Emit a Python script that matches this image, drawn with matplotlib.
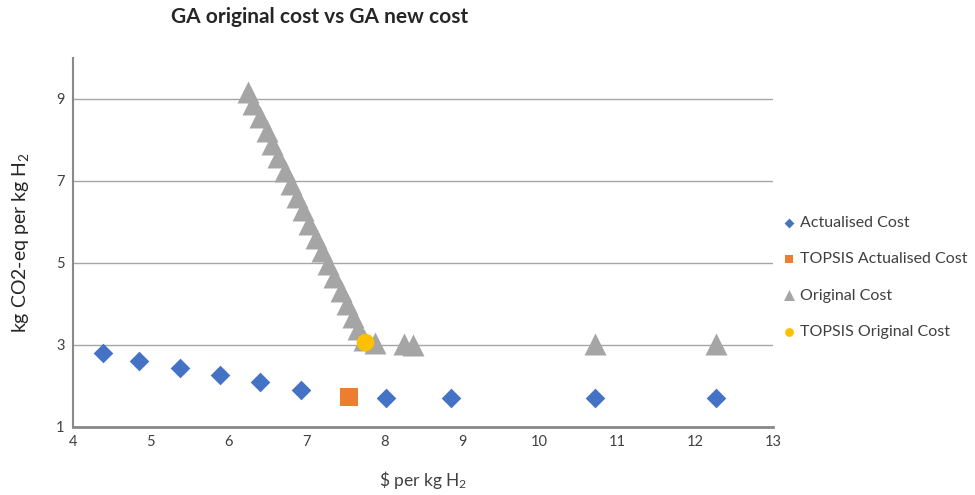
import matplotlib.pyplot as plt
import numpy as np

plt.rcParams['font.family'] = ['Lato', 'DejaVu Sans']
plt.rcParams['mathtext.fontset'] = 'custom'
plt.rcParams['mathtext.rm'] = 'Lato'
plt.rcParams['mathtext.it'] = 'Lato'

# Actualised cost (blue diamonds)
act_x = [4.38, 4.85, 5.37, 5.89, 6.40, 6.93, 8.03, 8.86, 10.71, 12.26]
act_y = [2.80, 2.62, 2.43, 2.27, 2.09, 1.90, 1.71, 1.71, 1.71, 1.71]

# TOPSIS actualised (orange square)
topa_x = [7.55]
topa_y = [1.72]

# Original cost (grey triangles)
orig_x = [6.25, 6.32, 6.40, 6.49, 6.56, 6.64, 6.72, 6.80, 6.88, 6.96,
          7.04, 7.12, 7.20, 7.28, 7.36, 7.44, 7.52, 7.60, 7.67, 7.74,
          7.88, 8.25, 8.37, 10.71, 12.26]
orig_y = [9.18, 8.88, 8.55, 8.22, 7.90, 7.58, 7.25, 6.92, 6.60, 6.28,
          5.95, 5.62, 5.30, 4.98, 4.65, 4.32, 4.00, 3.68, 3.38, 3.12,
          3.05, 3.03, 3.00, 3.03, 3.03]

# TOPSIS original (yellow circle)
topo_x = [7.75]
topo_y = [3.08]

fig = plt.figure(figsize=(9.75, 4.95), dpi=100)
ax = fig.add_axes([0.0749, 0.1374, 0.718, 0.7455])

ax.scatter(act_x, act_y, marker='D', s=100, color='#4472C4', label='Actualised Cost', zorder=3, linewidths=0)
ax.scatter(topa_x, topa_y, marker='s', s=150, color='#ED7D31', label='TOPSIS Actualised Cost', zorder=3, linewidths=0)
ax.scatter(orig_x, orig_y, marker='^', s=250, color='#A5A5A5', label='Original Cost', zorder=3, linewidths=0)
ax.scatter(topo_x, topo_y, marker='o', s=160, color='#FFC000', label='TOPSIS Original Cost', zorder=4, linewidths=0)

ax.set_xlim(4, 13)
ax.set_ylim(1, 10)
ax.set_xticks(np.arange(4, 14, 1))
ax.set_yticks([1, 3, 5, 7, 9])
ax.tick_params(length=0, labelsize=10.5, colors='#404040', pad=6)
ax.yaxis.grid(True, color='#A6A6A6', linewidth=1)
ax.set_axisbelow(True)

for s in ['top', 'right']:
    ax.spines[s].set_visible(False)
ax.spines['left'].set_color('#898989')
ax.spines['left'].set_linewidth(1.5)
ax.spines['bottom'].set_color('#898989')
ax.spines['bottom'].set_linewidth(2)

ax.set_xlabel('\\$ per kg H$_2$', fontsize=12.5, color='#404040', labelpad=14)
ax.set_ylabel('kg CO2-eq per kg H$_2$', fontsize=14, color='#262626', labelpad=18)

fig.text(320 / 975, 1 - 17 / 495, 'GA original cost vs GA new cost', ha='center', va='center',
         fontsize=15, fontweight='bold', color='#262626')

leg = fig.legend(loc='upper left', bbox_to_anchor=(782 / 975, 1 - 216 / 495), frameon=False, fontsize=11.5,
                 handletextpad=0.2, labelspacing=1.38, markerscale=0.5, handlelength=0.9,
                 borderaxespad=0, borderpad=0)
for t in leg.get_texts():
    t.set_color('#404040')

fig.savefig('out.png', dpi=100)
